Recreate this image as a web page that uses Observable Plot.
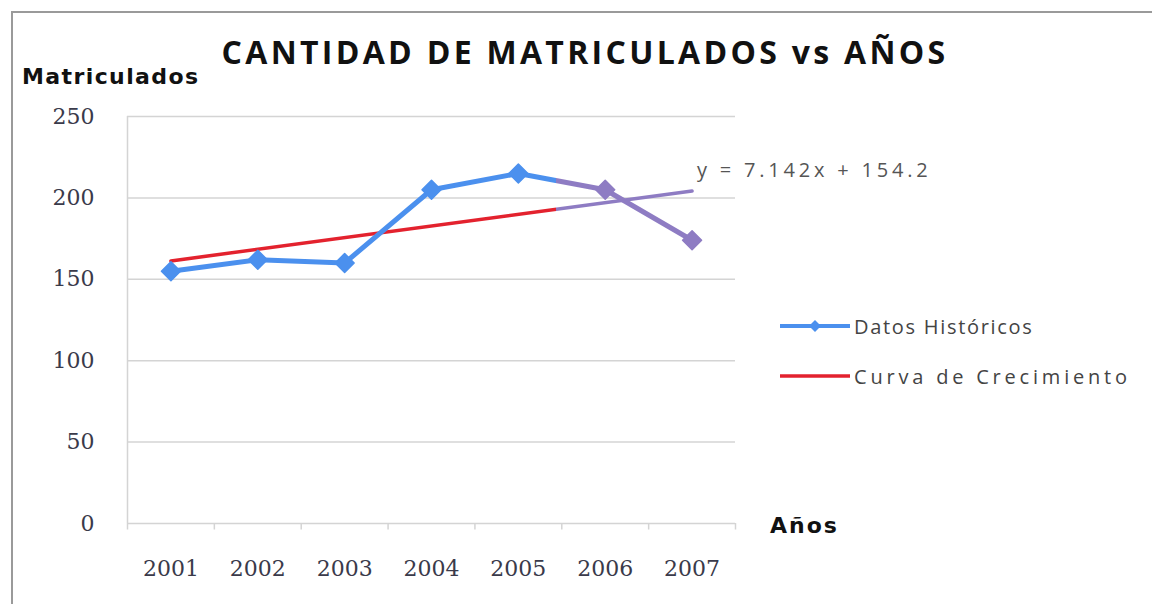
<!DOCTYPE html>
<html>
<head>
<meta charset="utf-8">
<script src="https://cdn.jsdelivr.net/npm/d3@7"></script>
<script src="https://cdn.jsdelivr.net/npm/@observablehq/plot@0.6"></script>
<style>
  html, body { margin: 0; padding: 0; background: #fff; }
  #wrap { position: relative; width: 1152px; height: 604px; overflow: hidden; background: #fff; }
  #frameBox { position: absolute; left: 11px; top: 11px; width: 1200px; height: 700px; border: 2px solid #9a9a9a; box-sizing: border-box; }
  .ov { position: absolute; white-space: nowrap; }
  #title { left: 0; width: 1170px; top: 30px; text-align: center; font: bold 32px "Open Sans", Lato, sans-serif; color: #111; letter-spacing: 3.3px; }
  #ylab { left: 22px; top: 64px; font: bold 22px "DejaVu Sans", Arial, sans-serif; color: #111; letter-spacing: 1.4px; }
  #xlab { left: 770px; top: 513px; font: bold 22px "DejaVu Sans", Arial, sans-serif; color: #111; letter-spacing: 2px; }
  #eq { left: 697px; top: 156px; font: 20px "Open Sans", sans-serif; color: #555; letter-spacing: 3.8px; }
  #legend { left: 778px; top: 310px; font: 20px "Open Sans", sans-serif; color: #444; }
  #legend .row { display: flex; align-items: center; height: 32px; margin-bottom: 18px; }
  #legend svg { margin-right: 2px; }
  #plot { position: absolute; left: 0; top: 0; }
</style>
</head>
<body>
<div id="wrap">
  <div id="frameBox"></div>
  <div id="plot"></div>
  <div class="ov" id="title"></div>
  <div class="ov" id="ylab"></div>
  <div class="ov" id="xlab"></div>
  <div class="ov" id="eq"></div>
  <div class="ov" id="legend"></div>
</div>
<script>
// ---- Data ----
const years = [2001, 2002, 2003, 2004, 2005, 2006, 2007];
const matriculados = [155, 162, 160, 205, 215, 205, 174];
const trendYears = [2001, 2007];
const trendValues = [161.3, 204.2];
const trendSlope = [7.142];
const trendIntercept = [154.2];
const yTicks = [0, 50, 100, 150, 200, 250];
const xDomain = [2000.5, 2007.5];
const bandEdges = [2000.5, 2001.5, 2002.5, 2003.5, 2004.5, 2005.5, 2006.5, 2007.5];
const highlightFrom = [2005.43];
const seriesNames = ["Datos Históricos", "Curva de Crecimiento"];
const titleText = "CANTIDAD DE MATRICULADOS vs AÑOS";
const yLabel = "Matriculados";
const xLabel = "Años";

// ---- Styles ----
const BLUE = "#4b90ee";
const RED = "#e3222e";
const PURPLE = "#8e7cc3";
const GRID = "#d4d4d4";
const TICKFONT = "'DejaVu Serif', serif";

// square-ish diamond marker (rotated square)
const squareDiamond = {
  draw(context, size) {
    const h = Math.sqrt(size / Math.PI);
    context.moveTo(0, -h);
    context.lineTo(h, 0);
    context.lineTo(0, h);
    context.lineTo(-h, 0);
    context.closePath();
  }
};

const hist = years.map((y, i) => ({year: y, value: matriculados[i]}));
const trend = trendYears.map((y, i) => ({year: y, value: trendValues[i]}));
const markColor = d => d.year > highlightFrom[0] ? PURPLE : BLUE;

const chart = Plot.plot({
  width: 1152,
  height: 604,
  marginLeft: 127,
  marginRight: 417,
  marginTop: 116,
  marginBottom: 81,
  x: {type: "linear", domain: xDomain, axis: null},
  y: {domain: [0, 250], axis: null},
  style: {background: "transparent", fontFamily: "'Open Sans', sans-serif"},
  marks: [
    Plot.ruleY(yTicks, {stroke: GRID, strokeWidth: 1.5}),
    Plot.ruleX([xDomain[0]], {y1: 0, y2: 250, stroke: GRID, strokeWidth: 1.5}),
    Plot.ruleX(bandEdges, {y1: 0, y2: -4, stroke: GRID, strokeWidth: 1.5}),
    Plot.text(yTicks, {y: d => d, frameAnchor: "left", dx: -33, textAnchor: "end", text: d => String(d), fontSize: 22, fontFamily: TICKFONT, fill: "#3a3a4a", letterSpacing: 2}),
    Plot.text(years, {x: d => d, frameAnchor: "bottom", dy: 52, text: d => String(d), fontSize: 22, fontFamily: TICKFONT, fill: "#3a3a4a", letterSpacing: 1.5}),
    Plot.line(trend, {x: "year", y: "value", stroke: "url(#trendGrad)", strokeWidth: 3.5}),
    Plot.line(hist, {x: "year", y: "value", stroke: "url(#histGrad)", strokeWidth: 5, strokeLinejoin: "round"}),
    Plot.dot(hist, {x: "year", y: "value", symbol: squareDiamond, r: 9.5, fill: markColor, stroke: markColor, strokeWidth: 1.5, strokeLinejoin: "round"})
  ]
});
document.getElementById("plot").appendChild(chart);

// gradients splitting the lines into the coloured / highlighted portion
const xs = chart.scale("x");
const xPx = v => xs.range[0] + (v - xs.domain[0]) / (xs.domain[1] - xs.domain[0]) * (xs.range[1] - xs.range[0]);
const splitPx = xPx(highlightFrom[0]);
const defs = d3.select(chart).insert("defs", ":first-child");
function grad(id, c1, c2) {
  const g = defs.append("linearGradient").attr("id", id).attr("gradientUnits", "userSpaceOnUse")
    .attr("x1", 0).attr("x2", 1152).attr("y1", 0).attr("y2", 0);
  const f = splitPx / 1152;
  g.append("stop").attr("offset", 0).attr("stop-color", c1);
  g.append("stop").attr("offset", f).attr("stop-color", c1);
  g.append("stop").attr("offset", f).attr("stop-color", c2);
  g.append("stop").attr("offset", 1).attr("stop-color", c2);
}
grad("histGrad", BLUE, PURPLE);
grad("trendGrad", RED, PURPLE);

document.getElementById("title").textContent = titleText;
document.getElementById("ylab").textContent = yLabel;
document.getElementById("xlab").textContent = xLabel;
document.getElementById("eq").textContent = `y = ${trendSlope[0]}x + ${trendIntercept[0]}`;

const legend = document.getElementById("legend");
const legendSpacing = ["1.7px", "3.8px"];
[[BLUE, true], [RED, false]].forEach(([c, marker], i) => {
  const row = document.createElement("div");
  row.className = "row";
  row.innerHTML = `<svg width="74" height="20"><line x1="2" x2="72" y1="10" y2="10" stroke="${c}" stroke-width="${marker ? 4 : 3.5}"/>` +
    (marker ? `<path d="M37,4 L43,10 L37,16 L31,10 Z" fill="${c}"/>` : "") +
    `</svg><span style="letter-spacing:${legendSpacing[i]}">${seriesNames[i]}</span>`;
  legend.appendChild(row);
});
</script>
</body>
</html>
